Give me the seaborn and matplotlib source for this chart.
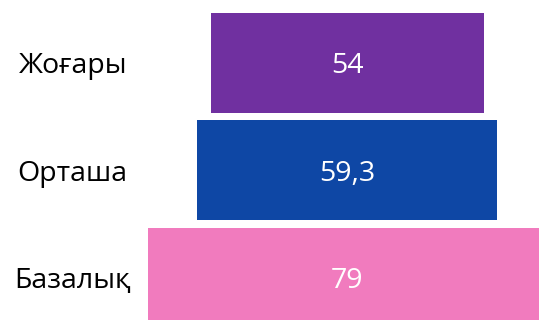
import seaborn as sns
import matplotlib.pyplot as plt
import pandas as pd

# Funnel data
levels = ['Жоғары', 'Орташа', 'Базалық']
values = [54, 59.3, 79]
colors = ['#7030A0', '#0E47A5', '#F17BBE']

df = pd.DataFrame({'level': levels, 'value': values})

sns.set_style('white')
plt.rcParams['font.family'] = ['Open Sans', 'DejaVu Sans']

fig = plt.figure(figsize=(5.39, 3.20), dpi=100)
ax = fig.add_axes([0, 0, 1, 1])

sns.barplot(data=df, x='value', y='level', hue='level', palette=colors,
            orient='h', width=0.93, saturation=1, legend=False, ax=ax)

# center each bar around x = 0 to get the funnel shape
for patch in ax.patches:
    patch.set_x(-patch.get_width() / 2)
    patch.set_linewidth(0)

for i, (lvl, v) in enumerate(zip(levels, values)):
    ax.text(0, i, f'{v:g}'.replace('.', ','), color='white', fontsize=20.5,
            ha='center', va='center_baseline')
    ax.text(0.135, i, lvl, transform=ax.get_yaxis_transform(), color='black',
            fontsize=20.5, ha='center', va='center_baseline')

ax.set_xlim(-68.7, 37.9)
ax.set_ylim(2.395, -0.587)
ax.axis('off')

fig.savefig('out.png', dpi=100)
